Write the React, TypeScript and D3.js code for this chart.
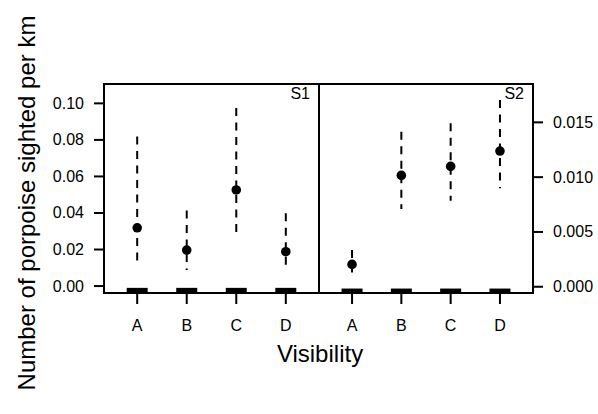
import { scaleLinear, scalePoint } from 'd3';

const categories = ['A', 'B', 'C', 'D'];

// S1 panel (left axis)
const s1Mean = [0.0319, 0.0197, 0.0526, 0.0188];
const s1Upper = [0.0818, 0.0413, 0.0974, 0.0398];
const s1Lower = [0.0115, 0.0088, 0.027, 0.0088];

// S2 panel (right axis)
const s2Mean = [0.00204, 0.01016, 0.01098, 0.01238];
const s2Upper = [0.00335, 0.01414, 0.01491, 0.01703];
const s2Lower = [0.00116, 0.00709, 0.00785, 0.00898];

const s1Ticks = [0, 0.02, 0.04, 0.06, 0.08, 0.1];
const s2Ticks = [0, 0.005, 0.01, 0.015];

const width = 598;
const height = 414;
const top = 84;
const bottom = 293;
const leftX = 104;
const midX = 319;
const rightX = 533;
const font = '"Liberation Sans", Arial, Helvetica, sans-serif';

interface PanelProps {
  label: string;
  x0: number;
  x1: number;
  mean: number[];
  upper: number[];
  lower: number[];
  domain: [number, number];
}

function Panel({ label, x0, x1, mean, upper, lower, domain }: PanelProps) {
  const x = scalePoint<string>().domain(categories).range([x0, x1]).padding(0.67);
  const y = scaleLinear().domain(domain).range([bottom, top]);

  return (
    <g>
      {categories.map((cat, i) => {
        const cx = x(cat) || 0;
        return (
          <g key={cat}>
            <line
              x1={cx}
              x2={cx}
              y1={y(upper[i])}
              y2={y(lower[i])}
              stroke="#000"
              strokeWidth={2}
              strokeDasharray="8,6.5"
            />
            <circle cx={cx} cy={y(mean[i])} r={4.8} fill="#000" />
            <rect x={cx - 10.5} y={y(0) + 1.8} width={21} height={bottom - y(0) - 1.8} fill="#000" />
            <line x1={cx} x2={cx} y1={bottom} y2={bottom + 11} stroke="#000" strokeWidth={2} />
            <text x={cx} y={331} textAnchor="middle" fontSize={16}>
              {cat}
            </text>
          </g>
        );
      })}
      <text x={x1 - 9} y={99} textAnchor="end" fontSize={16}>
        {label}
      </text>
    </g>
  );
}

export default function App() {
  const yLeft = scaleLinear().domain([-0.0038, 0.1106]).range([bottom, top]);
  const yRight = scaleLinear().domain([-0.00057, 0.0185]).range([bottom, top]);

  return (
    <svg
      width={width}
      height={height}
      viewBox={`0 0 ${width} ${height}`}
      style={{ position: 'absolute', left: 0, top: 0, background: '#fff' }}
      fontFamily={font}
    >
      <Panel
        label="S1"
        x0={leftX}
        x1={midX}
        mean={s1Mean}
        upper={s1Upper}
        lower={s1Lower}
        domain={[-0.0038, 0.1106]}
      />
      <Panel
        label="S2"
        x0={midX}
        x1={rightX}
        mean={s2Mean}
        upper={s2Upper}
        lower={s2Lower}
        domain={[-0.00057, 0.0185]}
      />

      <rect
        x={leftX}
        y={top}
        width={rightX - leftX}
        height={bottom - top}
        fill="none"
        stroke="#000"
        strokeWidth={2}
      />
      <line x1={midX} x2={midX} y1={top} y2={bottom} stroke="#000" strokeWidth={2} />

      {s1Ticks.map((t) => (
        <g key={`l${t}`}>
          <line x1={leftX - 10} x2={leftX} y1={yLeft(t)} y2={yLeft(t)} stroke="#000" strokeWidth={2} />
          <text x={84} y={yLeft(t) + 5.5} textAnchor="end" fontSize={16}>
            {t.toFixed(2)}
          </text>
        </g>
      ))}

      {s2Ticks.map((t) => (
        <g key={`r${t}`}>
          <line x1={rightX} x2={rightX + 10} y1={yRight(t)} y2={yRight(t)} stroke="#000" strokeWidth={2} />
          <text x={553} y={yRight(t) + 5.5} textAnchor="start" fontSize={16}>
            {t.toFixed(3)}
          </text>
        </g>
      ))}

      <text x={320} y={362} textAnchor="middle" fontSize={24}>
        Visibility
      </text>
      <text
        transform="translate(35, 203) rotate(-90)"
        textAnchor="middle"
        fontSize={24}
      >
        Number of porpoise sighted per km
      </text>
    </svg>
  );
}
